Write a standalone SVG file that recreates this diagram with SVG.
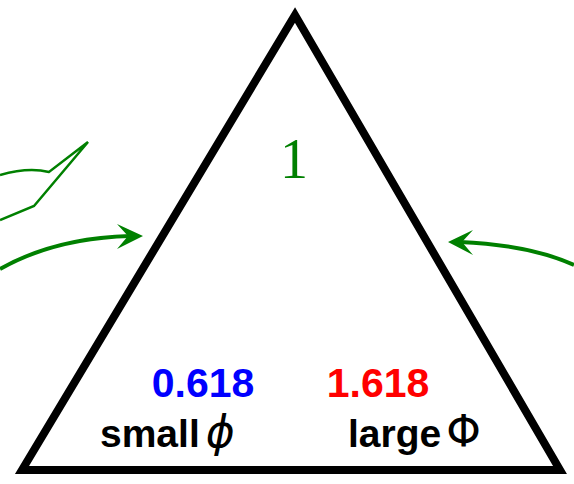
<svg xmlns="http://www.w3.org/2000/svg" width="574" height="484" viewBox="0 0 574 484">
<style>
.g{fill:none;stroke:#008000;stroke-width:4}
.num{font-family:"Liberation Sans",Arial,sans-serif;font-size:41px;font-weight:bold}
.lab{font-family:"Liberation Sans",Arial,sans-serif;font-size:39px;font-weight:bold;fill:#000}
.phi{font-family:"DejaVu Sans",sans-serif;font-weight:normal;font-size:44px}
</style>
<g id="triangle">
<polygon points="295,15 22,470 560,470" fill="none" stroke="#000" stroke-width="8" stroke-linejoin="miter"/>
</g>
<g id="connectors">
<path d="M0,175 Q28,167 49,172 L88,142 L34,206 L0,220" fill="none" stroke="#008000" stroke-width="2.5"/>
<path class="g" d="M0,269 Q55,238 130,236"/>
<polygon points="143,236 117,224 128,236 117,249" fill="#008000"/>
<path class="g" d="M574,265 Q530,245 460,242"/>
<polygon points="448,242 473,230 462,242 473,255" fill="#008000"/>
</g>
<g id="one"><text x="294" y="178" text-anchor="middle" font-family="Liberation Serif,serif" font-size="56" fill="#008000">1</text></g>
<g id="small">
<text class="num" x="203" y="397" text-anchor="middle" fill="#0000ff">0.618</text>
<text class="lab" x="100" y="447">small<tspan class="phi" dx="6" font-style="italic">ϕ</tspan></text>
</g>
<g id="large">
<text class="num" x="378" y="397" text-anchor="middle" fill="#ff0000">1.618</text>
<text class="lab" x="348" y="447">large<tspan class="phi" dx="5" font-size="47">Φ</tspan></text>
</g>
</svg>
